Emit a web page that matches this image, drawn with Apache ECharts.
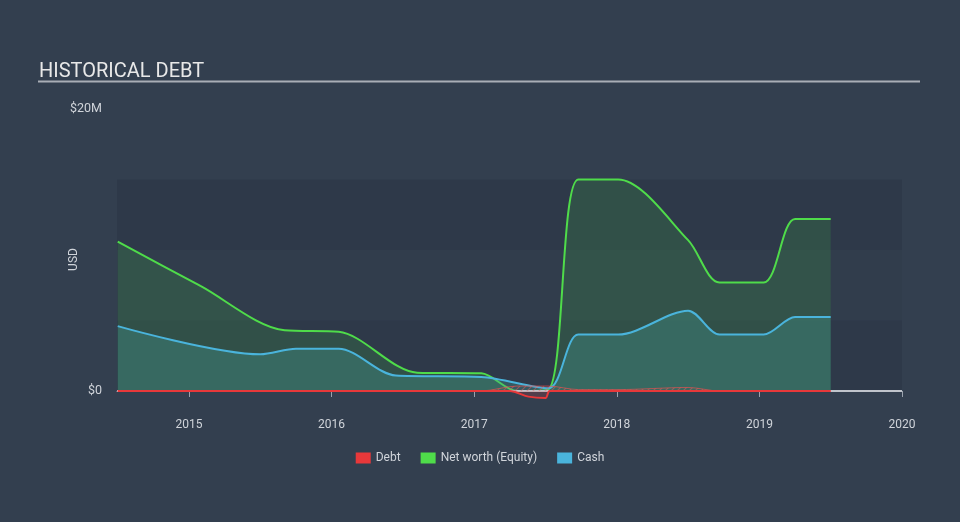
<!DOCTYPE html>
<html>
<head>
<meta charset="utf-8">
<script src="https://cdn.jsdelivr.net/npm/echarts@6/dist/echarts.min.js"></script>
<style>
html,body{margin:0;padding:0;background:#333f4f;}
#c{width:960px;height:522px;}
</style>
</head>
<body>
<div id="c"></div>
<script>
// Data (x in decimal years, values in $M)
const equityYears = [2014.5, 2015.08, 2015.67, 2016.05, 2016.6, 2017.05, 2017.3, 2017.52, 2017.73, 2018.01, 2018.5, 2018.72, 2019.03, 2019.25, 2019.5];
const equityValues = [10.6, 7.45, 4.3, 4.2, 1.3, 1.25, 0.0, 0.1, 15.0, 15.0, 10.7, 7.7, 7.7, 12.2, 12.2];

const cashYears = [2014.5, 2015.5, 2015.75, 2016.05, 2016.45, 2017.05, 2017.52, 2017.73, 2018.01, 2018.5, 2018.72, 2019.03, 2019.25, 2019.5];
const cashValues = [4.6, 2.6, 3.0, 3.0, 1.1, 1.0, 0.2, 4.0, 4.0, 5.7, 4.0, 4.0, 5.25, 5.25];

const debtYears = [2014.5, 2017.25, 2017.38, 2017.5, 2017.53, 2019.5];
const debtValues = [0, 0, -0.4, -0.5, 0, 0];

const leaseYears = [2014.5, 2017.05, 2017.3, 2017.52, 2017.73, 2018.01, 2018.5, 2018.72, 2019.5];
const leaseValues = [0, 0, 0.35, 0.35, 0.1, 0.1, 0.25, 0, 0];

const yearTicks = [2015, 2016, 2017, 2018, 2019, 2020];
const yTickValues = [0, 20];

function pairs(d, v){ return d.map((x,i)=>[x, v[i]]); }

// hatch pattern
const pat = document.createElement('canvas');
pat.width = 6; pat.height = 6;
const pc = pat.getContext('2d');
pc.strokeStyle = 'rgba(230,100,100,0.7)';
pc.lineWidth = 1.2;
pc.beginPath(); pc.moveTo(0,6); pc.lineTo(6,0); pc.stroke();
pc.beginPath(); pc.moveTo(-1,1); pc.lineTo(1,-1); pc.stroke();
pc.beginPath(); pc.moveTo(5,7); pc.lineTo(7,5); pc.stroke();

const chart = echarts.init(document.getElementById('c'));
const option = {
  backgroundColor: '#333f4f',
  animation: false,
  title: {
    text: 'HISTORICAL DEBT',
    left: 34, top: 57,
    textStyle: {color: '#e8e8e8', fontSize: 20, fontWeight: 'normal', fontFamily: 'Roboto'}
  },
  graphic: [{
    type: 'line', shape: {x1: 38, y1: 81.5, x2: 920, y2: 81.5},
    style: {stroke: '#a9aeb6', lineWidth: 2}
  }],
  legend: {
    data: ['Debt', 'Net worth (Equity)', 'Cash'],
    bottom: 53, left: 'center',
    icon: 'rect', itemWidth: 15, itemHeight: 11, itemGap: 20,
    textStyle: {color: '#d0d4da', fontSize: 12, fontFamily: 'Roboto'}
  },
  grid: {left: 117, right: 58, top: 109, bottom: 112},
  xAxis: {
    type: 'value',
    min: 2014.495, max: 2020,
    axisLine: {show: true, lineStyle: {color: '#9ba3ae', width: 1}},
    axisTick: {show: true, customValues: yearTicks, length: 6, lineStyle: {color: '#9ba3ae'}},
    axisLabel: {customValues: yearTicks, formatter: v => String(Math.round(v)), color: '#d0d4da', fontSize: 12, fontFamily: 'Roboto', margin: 9},
    splitLine: {show: false}
  },
  yAxis: {
    type: 'value',
    min: -1.348, max: 20,
    name: 'USD', nameLocation: 'middle', nameGap: 37, nameRotate: 90, nameMoveOverlap: false,
    nameTextStyle: {color: '#d0d4da', fontSize: 12, fontFamily: 'Roboto'},
    axisLine: {show: false}, axisTick: {show: false},
    splitLine: {show: false},
    axisLabel: {customValues: yTickValues, formatter: v => v === 0 ? '$0' : '$' + v + 'M', color: '#d0d4da', fontSize: 12.5, fontFamily: 'Roboto', margin: 15}
  },
  series: [
    {
      name: 'bands', type: 'line', data: [], silent: true, z: 1,
      markArea: {silent: true, data: [
        [{yAxis: 0, itemStyle: {color: 'rgba(30,40,55,0.25)'}}, {yAxis: 5}],
        [{yAxis: 5, itemStyle: {color: 'rgba(30,40,55,0.08)'}}, {yAxis: 10}],
        [{yAxis: 10, itemStyle: {color: 'rgba(30,40,55,0.25)'}}, {yAxis: 15}]
      ]},
      markLine: {silent: true, symbol: 'none', label: {show: false},
        lineStyle: {color: '#c0c4cb', type: 'solid', width: 2},
        data: [{yAxis: 0}]}
    },
    {
      name: 'Net worth (Equity)', type: 'line', smooth: 0.3, showSymbol: false, z: 3,
      data: pairs(equityYears, equityValues),
      lineStyle: {color: '#4fdc4a', width: 2},
      itemStyle: {color: '#4fdc4a'},
      areaStyle: {color: 'rgba(60,160,70,0.33)'}
    },
    {
      name: 'Cash', type: 'line', smooth: 0.3, showSymbol: false, z: 4,
      data: pairs(cashYears, cashValues),
      lineStyle: {color: '#4ab4dc', width: 2},
      itemStyle: {color: '#4ab4dc'},
      areaStyle: {color: 'rgba(70,160,150,0.45)'}
    },
    {
      name: 'lease', type: 'line', smooth: 0.3, showSymbol: false, z: 5,
      data: pairs(leaseYears, leaseValues),
      lineStyle: {color: 'rgba(230,80,80,0.7)', width: 1},
      areaStyle: {color: {image: pat, repeat: 'repeat'}}
    },
    {
      name: 'Debt', type: 'line', smooth: 0.3, showSymbol: false, z: 6,
      data: pairs(debtYears, debtValues),
      lineStyle: {color: '#e8383a', width: 2},
      itemStyle: {color: '#e8383a'},
      areaStyle: {color: 'rgba(232,56,58,0.25)'}
    }
  ]
};
chart.setOption(option);
</script>
</body>
</html>
